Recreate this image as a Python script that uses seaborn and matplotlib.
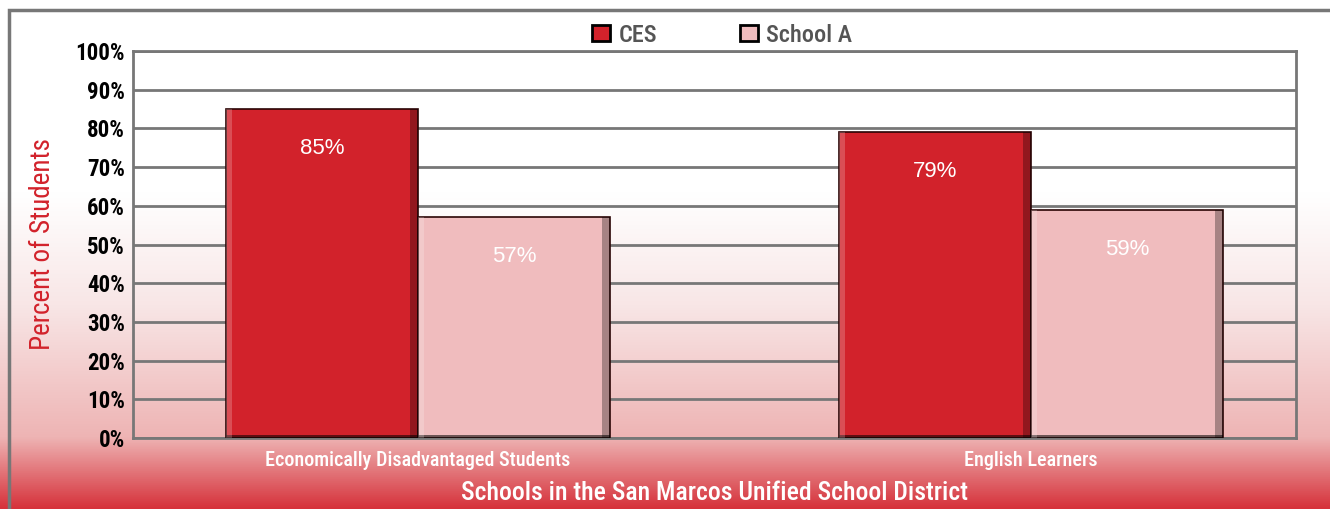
import numpy as np
import pandas as pd
import matplotlib
matplotlib.use("Agg")
import matplotlib.pyplot as plt
import seaborn as sns
from matplotlib.colors import LinearSegmentedColormap
from matplotlib.patches import Rectangle

# data
categories = ["Economically Disadvantaged Students", "English Learners"]
ces = [85, 79]
school_a = [57, 59]
series = ["CES", "School A"]
colors = ["#d2222b", "#f0bcbe"]

df = pd.DataFrame({
    "group": categories * 2,
    "school": [series[0]] * 2 + [series[1]] * 2,
    "pct": ces + school_a,
})

sns.set_style("white")
plt.rcParams["font.family"] = ["Roboto Condensed", "DejaVu Sans"]

fig = plt.figure(figsize=(13.3, 5.09), dpi=100)

# background gradient (white on top, red at bottom)
bg = fig.add_axes([0, 0, 1, 1], zorder=-10)
grad = LinearSegmentedColormap.from_list("bg", [
    (0.0, "#ffffff"), (0.38, "#ffffff"), (0.6, "#f8e6e6"),
    (0.86, "#eeb4b4"), (1.0, "#d6323b")])
bg.imshow(np.linspace(0, 1, 256).reshape(-1, 1), aspect="auto", cmap=grad,
          extent=[0, 1, 0, 1], origin="upper")
bg.add_patch(Rectangle((9 / 1330, -0.1), 1.1, 1.1 - 10 / 509,
                       fill=False, edgecolor="#777777", lw=2.5))
bg.set_xlim(0, 1)
bg.set_ylim(0, 1)
bg.axis("off")

ax = fig.add_axes([133 / 1330, 71 / 509, 1163 / 1330, 387 / 509])
ax.patch.set_alpha(0)
sns.barplot(data=df, x="group", y="pct", hue="school", palette=colors,
            saturation=1, width=0.626, edgecolor="#2a0505", linewidth=1.2,
            ax=ax, legend=False, zorder=3)

# soft dark shading along bottom/right edge of each bar
for cont in ax.containers:
    for bar in cont:
        x0, w, h = bar.get_x(), bar.get_width(), bar.get_height()
        ax.add_patch(Rectangle((x0, 0), w, 0.9, facecolor="#000000",
                               alpha=0.55, lw=0, zorder=4))
        ax.add_patch(Rectangle((x0 + w * 0.96, 0), w * 0.04, h,
                               facecolor="#000000", alpha=0.3, lw=0, zorder=4))
        ax.add_patch(Rectangle((x0, 0), w * 0.03, h,
                               facecolor="#ffffff", alpha=0.2, lw=0, zorder=4))

for cont in ax.containers:
    for bar in cont:
        h = bar.get_height()
        ax.text(bar.get_x() + bar.get_width() / 2, h - 7.5, f"{h:.0f}%",
                ha="center", va="top", color="white", fontsize=16,
                family=["Liberation Sans"], zorder=5)

ax.set_xlim(-0.465, 1.432)
ax.set_ylim(0, 100)
ax.set_yticks(range(0, 101, 10))
ax.set_yticklabels([f"{v}%" for v in range(0, 101, 10)],
                   fontsize=16.5, fontweight="bold", color="black")
ax.yaxis.grid(True, color="#777777", lw=2, zorder=1)
ax.set_axisbelow(True)
for s in ax.spines.values():
    s.set_visible(True)
    s.set_color("#777777")
    s.set_linewidth(2)
ax.tick_params(axis="y", length=0, pad=6)
ax.tick_params(axis="x", length=0, pad=9, labelsize=14.5, labelcolor="white")
for t in ax.get_xticklabels():
    t.set_fontweight("medium")

ax.set_ylabel("Percent of Students", fontsize=19.5, color="#d2222b",
              labelpad=14, fontweight="normal")
ax.set_xlabel("Schools in the San Marcos Unified School District",
              fontsize=18.5, color="white", labelpad=8, fontweight="medium")

handles = [Rectangle((0, 0), 1, 1, facecolor=c, edgecolor="black", lw=2)
           for c in colors]
fig.legend(handles, series, loc="center", bbox_to_anchor=(722 / 1330, 1 - 35 / 509),
           ncol=2, frameon=False, labelcolor="#555555",
           handlelength=0.75, handleheight=0.65, handletextpad=0.35,
           columnspacing=3.4, prop={"family": "Roboto Condensed", "size": 17.5,
                                    "weight": "medium"})

fig.savefig("out.png", dpi=100)
